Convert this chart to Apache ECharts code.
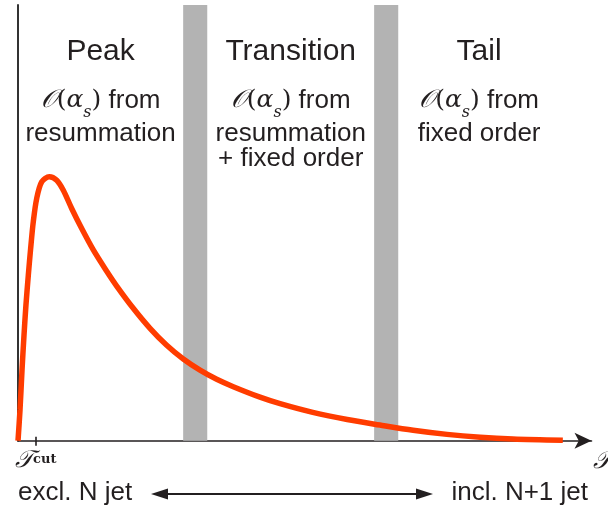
<!DOCTYPE html>
<html>
<head>
<meta charset="utf-8">
<script src="https://cdn.jsdelivr.net/npm/echarts@6/dist/echarts.min.js"></script>
<style>
  html, body { margin: 0; padding: 0; background: #fff; }
  #chart { width: 608px; height: 510px; }
</style>
</head>
<body>
<div id="chart"></div>
<script>
// tau in arbitrary units (0..100 along the axis line), sigma in arbitrary units
const tau = [0, 0.35, 0.70, 1.05, 1.39, 1.80, 2.21, 2.67, 3.26, 4.13, 5.46, 6.75, 7.90, 9.36,
  11.11, 13.13, 15.47, 17.21, 20.10, 23.02, 25.93, 28.82, 31.74, 34.65, 37.54, 42.2, 45.7,
  51.4, 57.4, 63.1, 68.9, 74.8, 80.6, 86.3, 95.0]
const sigma = [0, 7.05, 16.2, 24.3, 31.2, 38.0, 44.2, 50.3, 55.6, 59.4, 60.6, 59.8, 57.5, 53.3,
  48.7, 43.8, 38.9, 35.5, 30.4, 25.8, 21.9, 18.75, 16.2, 14.1, 12.4, 10.0, 8.5,
  6.5, 4.85, 3.6, 2.4, 1.45, 0.8, 0.4, 0.1]
const tauCut = 3.1
const bands = [[28.8, 33.0], [62.1, 66.3]]
const regions = [[0, 28.8], [33.0, 62.1], [66.3, 94.5]]
const regionTitles = ['Peak', 'Transition', 'Tail']
const regionNotes = [['resummation'], ['resummation', '+ fixed order'], ['fixed order']]
const leftNote = 'excl. N jet'
const rightNote = 'incl. N+1 jet'

const ink = '#231f20'
const sans = 'Liberation Sans'
const serif = 'DejaVu Serif'

const regionRich = {
  t: {fontFamily: sans, fontSize: 30, lineHeight: 56, color: ink},
  cal: {fontFamily: serif, fontStyle: 'italic', fontSize: 25, lineHeight: 41, color: ink},
  par: {fontFamily: serif, fontSize: 25, lineHeight: 41, color: ink},
  gr: {fontFamily: serif, fontStyle: 'italic', fontSize: 25, lineHeight: 41, color: ink},
  sub: {fontFamily: serif, fontStyle: 'italic', fontSize: 16, lineHeight: 30, verticalAlign: 'bottom', color: ink},
  f: {fontFamily: sans, fontSize: 26, lineHeight: 41, color: ink},
  n: {fontFamily: sans, fontSize: 26, lineHeight: 25, color: ink}
}

const regionLabel = (i) => {
  const lines = ['{t|' + regionTitles[i] + '}', '{cal|𝒪}{par|(}{gr|α}{sub|s}{par|)}{f| from}']
  regionNotes[i].forEach(n => lines.push('{n|' + n + '}'))
  return lines.join('\n')
}

const areaData = []
bands.forEach(b => {
  areaData.push([{xAxis: b[0], itemStyle: {color: '#b3b3b3'}, label: {show: false}}, {xAxis: b[1]}])
})
regions.forEach((r, i) => {
  areaData.push([{
    xAxis: r[0],
    itemStyle: {color: 'rgba(0,0,0,0)'},
    label: {
      show: true,
      position: 'insideTop',
      distance: 19,
      align: 'center',
      formatter: regionLabel(i),
      rich: regionRich
    }
  }, {xAxis: r[1]}])
})

const chart = echarts.init(document.getElementById('chart'))
const option = {
  animation: false,
  grid: {left: 18, right: 16.5, top: 5, bottom: 69.3},
  xAxis: [
    {
      type: 'value',
      min: 0,
      max: 100,
      splitLine: {show: false},
      axisLine: {
        show: true,
        symbol: ['none', 'arrow'],
        symbolSize: [12, 17],
        lineStyle: {color: ink, width: 1.6}
      },
      axisTick: {show: true, customValues: [tauCut], length: 5, lineStyle: {color: ink, width: 1.6}},
      axisLabel: {
        show: true,
        customValues: [tauCut],
        margin: 8,
        formatter: () => '{cal|𝒯}{sup|cut}',
        rich: {
          cal: {fontFamily: serif, fontStyle: 'italic', fontSize: 24, lineHeight: 24, color: ink},
          sup: {fontFamily: serif, fontWeight: 'bold', fontSize: 13, lineHeight: 24, color: ink,
            verticalAlign: 'middle', padding: [0, 0, 3, 0]}
        }
      }
    },
    {
      type: 'value',
      min: 0,
      max: 100,
      position: 'bottom',
      splitLine: {show: false},
      axisLine: {show: false},
      axisLabel: {show: false},
      axisTick: {show: true, inside: true, customValues: [tauCut], length: 4, lineStyle: {color: ink, width: 1.6}}
    }
  ],
  yAxis: {
    type: 'value',
    min: 0,
    max: 100,
    splitLine: {show: false},
    axisTick: {show: false},
    axisLabel: {show: false},
    axisLine: {show: true, lineStyle: {color: '#333', width: 2}}
  },
  series: [
    {
      type: 'line',
      data: tau.map((t, i) => [t, sigma[i]]),
      smooth: 0.3,
      showSymbol: false,
      z: 3,
      lineStyle: {color: '#ff3c00', width: 5.5},
      markArea: {silent: true, z: 1, data: areaData}
    }
  ],
  graphic: [
    {type: 'text', left: 593, top: 450, style: {text: '𝒯', font: 'italic 24px "DejaVu Serif"', fill: ink}},
    {type: 'text', left: 18, top: 480, style: {text: leftNote, font: '26px "Liberation Sans"', fill: ink}},
    {type: 'text', right: 20, top: 480, style: {text: rightNote, font: '26px "Liberation Sans"', fill: ink}},
    {type: 'line', shape: {x1: 162, y1: 494, x2: 422, y2: 494}, style: {stroke: ink, lineWidth: 2}},
    {type: 'polygon', shape: {points: [[151, 494], [168, 488.5], [168, 499.5]]}, style: {fill: ink}},
    {type: 'polygon', shape: {points: [[433, 494], [416, 488.5], [416, 499.5]]}, style: {fill: ink}}
  ]
}
chart.setOption(option)
</script>
</body>
</html>
